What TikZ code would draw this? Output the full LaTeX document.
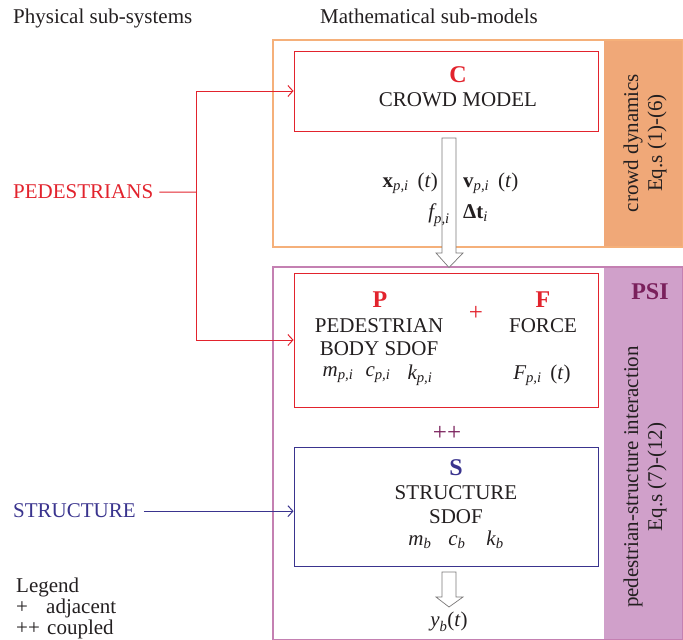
\documentclass[tikz,border=0pt]{standalone}
\usepackage{amsmath}
\usepackage{fontspec}
\setmainfont{Liberation Serif}
\usetikzlibrary{arrows.meta,positioning}
\definecolor{pedred}{RGB}{226,35,45}
\definecolor{strblue}{RGB}{58,52,142}
\definecolor{psipurple}{RGB}{122,32,92}
\definecolor{crowdline}{RGB}{245,176,122}
\definecolor{crowdfill}{RGB}{240,168,120}
\definecolor{psiline}{RGB}{196,128,178}
\definecolor{psifill}{RGB}{208,160,202}
\definecolor{ink}{RGB}{35,31,32}
% italic symbol with italic subscript, set in the text font
\newcommand{\symsub}[2]{$\textit{#1}_{\textit{#2}}$}
\tikzset{
  redbox/.style={draw=pedred, line width=0.9pt, minimum width=304pt},
  bluebox/.style={draw=strblue, line width=0.9pt, minimum width=304pt},
  letter/.style={font=\fontsize{24}{26}\selectfont\bfseries, inner sep=0pt},
  bigsign/.style={font=\fontsize{25}{26}\selectfont, inner sep=0pt},
  txt/.style={inner sep=0pt},
  hollow/.style={draw=ink!60, fill=white, line width=0.7pt},
  pedline/.style={draw=pedred, line width=1pt},
  strline/.style={draw=strblue, line width=1pt}
}
\begin{document}
\begin{tikzpicture}[x=1pt, y=-1pt, >={Straight Barb[length=5pt,width=11pt]}, text=ink,
    font=\fontsize{21}{24}\selectfont]
\useasboundingbox (0,0) rectangle (683,640);
% frames of the sub-models
\fill[crowdfill] (604,40) rectangle (683,247);
\draw[crowdline, line width=1.5pt] (273,40) rectangle (683,247);
\fill[psifill] (604,267) rectangle (683,639.5);
\draw[psiline, line width=1.5pt] (273,267) rectangle (683,639.5);
% hollow arrows
\draw[hollow] (442,138) -- (456,138) -- (456,253) -- (463,253) -- (449,267.5)
  -- (436,253) -- (442,253) -- cycle;
\draw[hollow] (442,572) -- (456,572) -- (456,597) -- (463,597) -- (449,607)
  -- (436,597) -- (442,597) -- cycle;
% headings
\node[txt, anchor=base west] (physical) at (13,23) {Physical sub-systems};
\node[txt, anchor=base] (mathematical) at (429,23) {Mathematical sub-models};
% boxes
\node[redbox, minimum height=80pt] (crowd) at (446,91) {};
\node[redbox, minimum height=134pt] (pf) at (446,340) {};
\node[bluebox, minimum height=119pt] (struct) at (446,506.5) {};
% crowd model
\node[letter, text=pedred] (C) at (458,75) {C};
\node[txt] (crowdtxt) at (458,100) {CROWD MODEL};
\node[txt, anchor=base east] (xpi) at (438,187) {$\textbf{x}_{\textit{p,i}}$\, (\textit{t})};
\node[txt, anchor=base west] (vpi) at (463,187) {$\textbf{v}_{\textit{p,i}}$\, (\textit{t})};
\node[txt, anchor=base east] (fpi) at (450,218) {\symsub{f}{p,i}};
\node[txt, anchor=base west] (dti) at (463,218) {$\textbf{Δt}_{\textit{i}}$};
% pedestrian + force
\node[letter, text=pedred] (P) at (380,300) {P};
\node[txt] (pedtxt) at (379,326) {PEDESTRIAN};
\node[txt] (bodytxt) at (379,349) {BODY SDOF};
\node[txt] (mpi) at (338,375) {\symsub{m}{p,i}};
\node[txt] (cpi) at (378,375) {\symsub{c}{p,i}};
\node[txt] (kpi) at (420,375) {\symsub{k}{p,i}};
\node[bigsign, text=pedred] (plus) at (476,313) {+};
\node[letter, text=pedred] (F) at (543,300) {F};
\node[txt] (forcetxt) at (543,326) {FORCE};
\node[txt] (Fpi) at (542,375) {\symsub{F}{p,i}\, (\textit{t})};
\node[bigsign, text=psipurple] (pluplus) at (447,433) {++};
% structure
\node[letter, text=strblue] (S) at (456,468) {S};
\node[txt] (strtxt) at (456,493) {STRUCTURE};
\node[txt] (sdoftxt) at (456,517) {SDOF};
\node[txt] (mck) at (456,540) {\symsub{m}{b}\;\; \symsub{c}{b}\quad \symsub{k}{b}};
\node[txt] (yb) at (449,622) {\symsub{y}{b}(\textit{t})};
% side labels
\node[txt, rotate=90, align=center] (crowddyn) at (645,143) {crowd dynamics\\Eq.s (1)-(6)};
\node[letter, text=psipurple] (PSI) at (650,292) {PSI};
\node[txt, rotate=90, align=center] (psidyn) at (645,477) {pedestrian-structure interaction\\Eq.s (7)-(12)};
% physical sub-systems
\node[txt, anchor=base west, text=pedred] (pedestrians) at (13,198) {PEDESTRIANS};
\node[txt, anchor=base west, text=strblue] (structure) at (13,517) {STRUCTURE};
\coordinate (pedjoin) at (196.5,192);
\draw[pedline] ([xshift=6pt,yshift=-1pt]pedestrians.east) -- (pedjoin);
\draw[pedline,->] (pedjoin) |- (crowd.west);
\draw[pedline,->] (pedjoin) |- (pf.west);
\draw[strline,->] ([xshift=8pt,yshift=-1pt]structure.east) -- ([yshift=-1pt]structure.east -| struct.west);
% legend
\node[txt, anchor=base west] (legend) at (16,592) {Legend};
\node[txt, anchor=base west] (adjsym) at (16,613) {+};
\node[txt, anchor=base west] (adjtxt) at (46,613) {adjacent};
\node[txt, anchor=base west] (cplsym) at (16,634) {++};
\node[txt, anchor=base west] (cpltxt) at (47,634) {coupled};
\end{tikzpicture}
\end{document}
